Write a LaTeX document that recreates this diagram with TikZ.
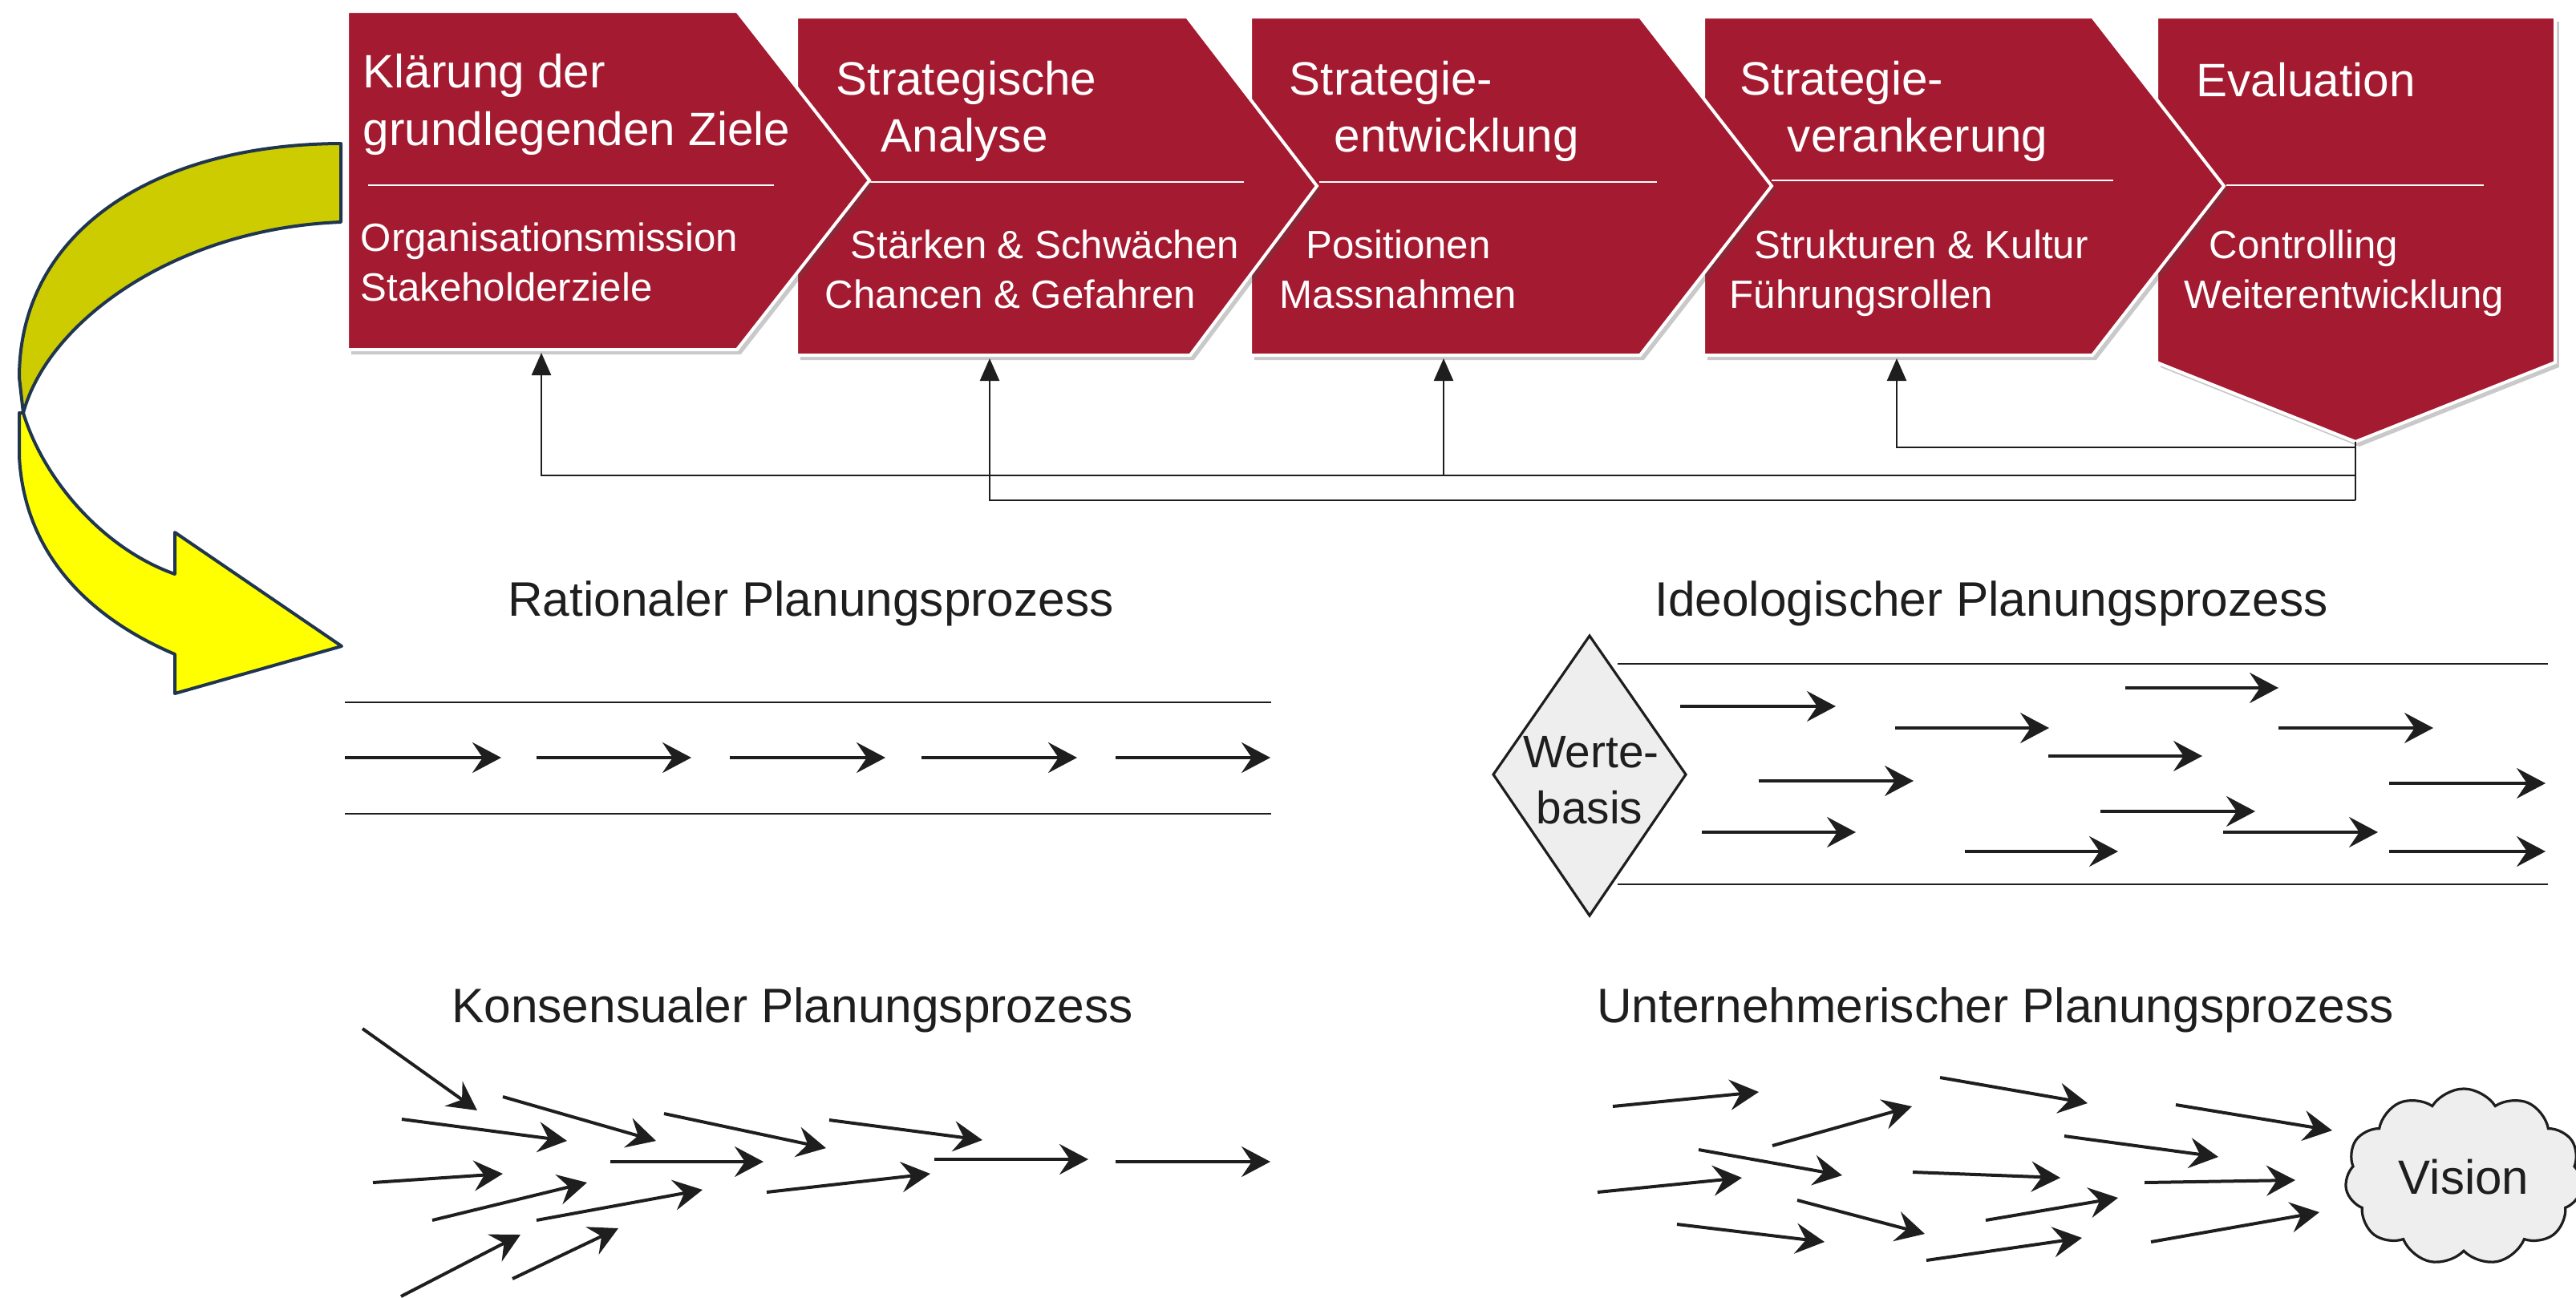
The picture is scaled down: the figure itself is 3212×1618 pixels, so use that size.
\documentclass[tikz,border=0pt]{standalone}
\usepackage{fontspec}
\setmainfont{Liberation Sans}
\usetikzlibrary{arrows.meta,shapes.symbols,shadows}
\definecolor{boxred}{HTML}{A41A30}
\definecolor{olivey}{HTML}{CCCC00}
\definecolor{yel}{HTML}{FFFF00}
\definecolor{navyline}{HTML}{1F3550}
\definecolor{ink}{HTML}{1E1E1E}
\definecolor{lgray}{HTML}{EEEEEE}
\begin{document}
\begin{tikzpicture}[x=0.25pt,y=-0.25pt,
  stagebox/.style={fill=boxred,draw=white,line width=1pt,line join=miter,
    drop shadow={shadow xshift=1.2pt,shadow yshift=-1.5pt,opacity=0.3,fill=black!70}},
  sepline/.style={draw=white,line width=0.6pt},
  headtxt/.style={text=white,font=\fontsize{14.6pt}{17pt}\selectfont,anchor=base west,inner sep=0},
  subtxt/.style={text=white,font=\fontsize{12.3pt}{15pt}\selectfont,anchor=base west,inner sep=0},
  fbline/.style={draw=ink,line width=0.6pt},
  fbarrow/.style={fbline,-{Triangle[length=7pt,width=6pt]}},
  paneltitle/.style={text=ink,font=\fontsize{15.1pt}{18pt}\selectfont,anchor=base,inner sep=0},
  procarrow/.style={draw=ink,line width=1pt,-{Stealth[length=9pt,width=9.5pt,inset=3.2pt]}},
  laneline/.style={draw=ink,line width=0.7pt},
  yarrow/.style={draw=navyline,line width=1pt,line join=round},
]
\useasboundingbox (0,0) rectangle (3212,1618);

% ---------- stage boxes (right to left so that left ones lie on top)
\path[stagebox] (2689,21) -- (3186,21) -- (3186,452) -- (2937,551) -- (2689,452) -- cycle;
\draw[sepline] (2776,231) -- (3097,231);
\path[stagebox] (2124,21) -- (2609,21) -- (2773,232) -- (2609,443) -- (2124,443) -- cycle;
\draw[sepline] (2209,225) -- (2635,225);
\path[stagebox] (1559,21) -- (2045,21) -- (2209,232) -- (2045,443) -- (1559,443) -- cycle;
\draw[sepline] (1645,227) -- (2066,227);
\path[stagebox] (993,21) -- (1480,21) -- (1642,232) -- (1484,443) -- (993,443) -- cycle;
\draw[sepline] (1084,227) -- (1551,227);
\path[stagebox] (433,14) -- (919,14) -- (1084,225) -- (919,436) -- (433,436) -- cycle;
\draw[sepline] (459,231) -- (965,231);

% box texts
\node[headtxt] (h1a) at (452,109) {Klärung der};
\node[headtxt] (h1b) at (452,181) {grundlegenden Ziele};
\node[subtxt] (s1a) at (449,313) {Organisationsmission};
\node[subtxt] (s1b) at (449,375) {Stakeholderziele};

\node[headtxt] (h2a) at (1042,118) {Strategische};
\node[headtxt] (h2b) at (1098,189) {Analyse};
\node[subtxt] (s2a) at (1060,322) {Stärken \& Schwächen};
\node[subtxt] (s2b) at (1028,384) {Chancen \& Gefahren};

\node[headtxt] (h3a) at (1607,118) {Strategie-};
\node[headtxt] (h3b) at (1663,189) {entwicklung};
\node[subtxt] (s3a) at (1628,322) {Positionen};
\node[subtxt] (s3b) at (1595,384) {Massnahmen};

\node[headtxt] (h4a) at (2169,118) {Strategie-};
\node[headtxt] (h4b) at (2228,189) {verankerung};
\node[subtxt] (s4a) at (2187,322) {Strukturen \& Kultur};
\node[subtxt] (s4b) at (2156,384) {Führungsrollen};

\node[headtxt] (h5a) at (2738,120) {Evaluation};
\node[subtxt] (s5a) at (2754,322) {Controlling};
\node[subtxt] (s5b) at (2723,384) {Weiterentwicklung};

% ---------- feedback connectors
\coordinate (evb) at (2937,551);
\coordinate (j1) at (2937,558);
\coordinate (j2) at (2937,593);
\coordinate (j3) at (2937,624);
\coordinate (a1) at (675,440);
\coordinate (a2) at (1234,447);
\coordinate (a3) at (1800,447);
\coordinate (a4) at (2365,447);
\coordinate (t3) at (1800,593);
\draw[fbline] (evb) -- (j3);
\draw[fbarrow] (j1) -| (a4);
\draw[fbarrow] (j2) -| (a1);
\draw[fbarrow] (j3) -| (a2);
\draw[fbarrow] (t3) -- (a3);

% ---------- yellow curved arrow
\draw[yarrow,fill=olivey] (425,179) .. controls (190,180) and (24,290) .. (24,471)
  -- (29,515) .. controls (60,400) and (220,285) .. (425,277) -- cycle;
\draw[yarrow,fill=yel] (29,515) .. controls (55,600) and (130,685) .. (218,716)
  -- (218,664) -- (426,806) -- (218,865) -- (218,816)
  .. controls (110,770) and (30,690) .. (24,569) -- (24,515) -- cycle;

% ---------- rational planning
\node[paneltitle] (tr) at (1011,768) {Rationaler Planungsprozess};
\coordinate (r1l) at (430,876); \coordinate (r1r) at (1585,876);
\coordinate (r2l) at (430,1015); \coordinate (r2r) at (1585,1015);
\draw[laneline] (r1l) -- (r1r);
\draw[laneline] (r2l) -- (r2r);
\foreach \s/\e [count=\i] in {430/625,669/862,910/1104,1149/1343,1391/1584}{
  \coordinate (ra\i) at (\s,945); \coordinate (rb\i) at (\e,945);
  \draw[procarrow] (ra\i) -- (rb\i);
}

% ---------- ideological planning
\node[paneltitle] (ti) at (2483,768) {Ideologischer Planungsprozess};
\coordinate (i1l) at (2017,828); \coordinate (i1r) at (3177,828);
\coordinate (i2l) at (2017,1103); \coordinate (i2r) at (3177,1103);
\draw[laneline] (i1l) -- (i1r);
\draw[laneline] (i2l) -- (i2r);
\draw[draw=ink,line width=0.8pt,fill=lgray,line join=miter]
  (1982,793) -- (2102,966) -- (1982,1142) -- (1862,966) -- cycle;
\node[paneltitle,font=\fontsize{14.2pt}{17pt}\selectfont] (wb1) at (1984,957) {Werte-};
\node[paneltitle,font=\fontsize{14.2pt}{17pt}\selectfont] (wb2) at (1982,1027) {basis};
\foreach \s/\y/\e [count=\i] in {2095/881/2289,2650/858/2841,2363/908/2555,2841/908/3034,
  2554/943/2746,2193/974/2386,2979/977/3174,2619/1012/2812,2122/1038/2314,
  2772/1038/2965,2450/1062/2641,2979/1062/3174}{
  \coordinate (ia\i) at (\s,\y); \coordinate (ib\i) at (\e,\y);
  \draw[procarrow] (ia\i) -- (ib\i);
}

% ---------- consensual planning
\node[paneltitle] (tk) at (988,1275) {Konsensualer Planungsprozess};
\foreach \sx/\sy/\ex/\ey [count=\i] in {452/1283/595/1385,627/1368/818/1423,501/1396/707/1423,
  828/1389/1030/1432,1034/1397/1225/1422,761/1449/952/1449,1165/1446/1357/1446,
  1391/1449/1584/1449,465/1475/627/1464,956/1487/1160/1464,539/1522/732/1475,
  669/1522/876/1484,500/1617/649/1540,639/1595/771/1532}{
  \coordinate (ka\i) at (\sx,\sy); \coordinate (kb\i) at (\ex,\ey);
  \draw[procarrow] (ka\i) -- (kb\i);
}

% ---------- entrepreneurial planning
\node[paneltitle] (tu) at (2488,1275) {Unternehmerischer Planungsprozess};
\foreach \sx/\sy/\ex/\ey [count=\i] in {2011/1380/2193/1362,2210/1429/2384/1380,2419/1344/2603/1376,
  2713/1378/2908/1410,2574/1417/2766/1443,2118/1434/2297/1466,1992/1487/2172/1469,
  2385/1462/2569/1469,2674/1475/2862/1472,2241/1497/2400/1539,2476/1522/2641/1494,
  2091/1527/2275/1549,2402/1572/2596/1544,2682/1549/2892/1512}{
  \coordinate (ua\i) at (\sx,\sy); \coordinate (ub\i) at (\ex,\ey);
  \draw[procarrow] (ua\i) -- (ub\i);
}
\node[cloud,draw=ink,fill=lgray,line width=0.8pt,cloud puffs=11,cloud puff arc=115,
  aspect=1.35,minimum width=74pt,minimum height=55pt,inner sep=0,
  text=ink,font=\fontsize{15pt}{18pt}\selectfont] (vis) at (3072,1468) {Vision};
\end{tikzpicture}
\end{document}
